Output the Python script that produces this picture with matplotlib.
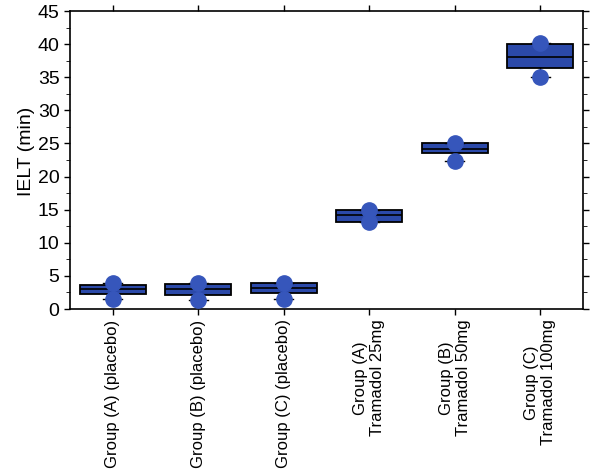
import numpy as np
import matplotlib.pyplot as plt
from matplotlib.ticker import MultipleLocator

plt.rcParams['font.family'] = ['Liberation Sans', 'DejaVu Sans']

groups = ["Group (A) (placebo)", "Group (B) (placebo)", "Group (C) (placebo)",
          "Group (A)\nTramadol 25mg", "Group (B)\nTramadol 50mg", "Group (C)\nTramadol 100mg"]
q1 = [2.3, 2.1, 2.4, 13.1, 23.5, 36.4]
med = [3.0, 3.0, 3.1, 14.2, 24.2, 38.1]
q3 = [3.6, 3.8, 4.0, 15.0, 25.0, 40.0]
lo = [1.5, 1.3, 1.5, 13.1, 22.3, 35.0]
hi = [4.0, 4.0, 4.0, 15.0, 25.0, 40.2]

fig = plt.figure(figsize=(6, 4.73), dpi=100)
ax = fig.add_axes([0.1167, 0.3467, 0.855, 0.63])

stats = []
for i in range(len(groups)):
    stats.append(dict(med=med[i], q1=q1[i], q3=q3[i], whislo=lo[i], whishi=hi[i], fliers=[]))

pos = np.arange(1, len(groups) + 1)
ax.bxp(stats, positions=pos, widths=0.77, patch_artist=True, showfliers=False,
       boxprops=dict(facecolor='#2b49a9', edgecolor='black', linewidth=1.3),
       medianprops=dict(color='black', linewidth=1.2),
       whiskerprops=dict(color='black', linewidth=1),
       capprops=dict(color='black', linewidth=1), capwidths=0.22)

ax.plot(pos, hi, 'o', color='#3656bb', markersize=11, zorder=5)
ax.plot(pos, lo, 'o', color='#3656bb', markersize=11, zorder=5)

ax.set_xlim(0.5, 6.5)
ax.set_ylim(0, 45)
ax.yaxis.set_major_locator(MultipleLocator(5))
ax.yaxis.set_minor_locator(MultipleLocator(2.5))
ax.set_xticks(pos)
ax.set_xticklabels(groups, rotation=90, fontsize=12, ha='center', va='top',
                   multialignment='center')
ax.tick_params(axis='y', labelsize=14, length=4, width=1, right=True)
ax.tick_params(axis='y', which='minor', length=3, right=True)
ax.tick_params(axis='x', length=4, width=1, top=True)
ax.set_ylabel("IELT (min)", fontsize=14)
ax.yaxis.set_label_coords(-0.068, 0.53)
for s in ax.spines.values():
    s.set_linewidth(1.2)

fig.savefig("out.png", dpi=100)
